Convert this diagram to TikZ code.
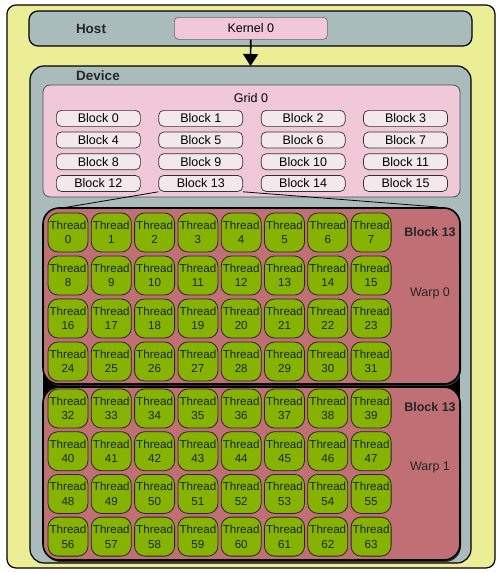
\documentclass[tikz,border=0pt]{standalone}
\usepackage{fontspec}
\setmainfont{Liberation Sans}
\usetikzlibrary{arrows.meta}
\definecolor{outery}{RGB}{236,238,150}
\definecolor{greyb}{RGB}{170,187,188}
\definecolor{pinkb}{RGB}{240,200,216}
\definecolor{blockb}{RGB}{243,232,236}
\definecolor{warpc}{RGB}{192,112,116}
\definecolor{threadg}{RGB}{134,178,0}
\definecolor{threadt}{RGB}{25,40,0}
\tikzset{
  panel/.style={draw=black, line width=1.2pt, rounded corners=9pt},
  blockbox/.style={draw=black!80, line width=0.7pt, fill=blockb, rounded corners=5pt,
    minimum width=84pt, minimum height=16pt, inner sep=0pt, font=\fontsize{12.5}{12.5}\selectfont, anchor=north west},
  warpbox/.style={draw=black, line width=1.6pt, fill=warpc, rounded corners=16pt},
  warpshadow/.style={fill=black!80, rounded corners=16pt},
  thr/.style={draw=black!85, line width=0.8pt, fill=threadg, rounded corners=10pt,
    minimum width=40pt, minimum height=39pt, inner sep=0pt, align=center,
    text=threadt, font=\fontsize{11.6}{14.5}\selectfont},
  title/.style={font=\fontsize{13.5}{13.5}\selectfont\bfseries, text=black!85},
  side/.style={font=\fontsize{12.5}{12.5}\selectfont, text=black!85},
  sidebold/.style={font=\fontsize{12.5}{12.5}\selectfont\bfseries, text=black!85}
}
\begin{document}
\begin{tikzpicture}[x=1pt,y=-1pt]
\useasboundingbox (0,0) rectangle (500,573);
% outer
\draw[panel, fill=outery] (7,5) rectangle (495,568);
% host
\draw[panel, fill=greyb] (29,11) rectangle (472,46);
\node[title] (host) at (91,29) {Host};
\node[draw=black!60, line width=0.6pt, fill=pinkb, rounded corners=4pt, minimum width=153pt, minimum height=22pt, inner sep=0pt, anchor=north west, font=\fontsize{12.5}{12.5}\selectfont] (kernel) at (174,17) {Kernel 0};
% device
\draw[panel, fill=greyb, rounded corners=14pt] (30,66) rectangle (471,563);
\coordinate (devtop) at (250.5,66);
\node[title] (device) at (98,76) {Device};
\draw[line width=1.6pt, -{Triangle[width=15pt,length=12pt]}] (kernel.south) -- (devtop);
% grid
\draw[draw=black!70, line width=0.8pt, fill=pinkb, rounded corners=7pt] (43,85) rectangle (460,197);
\node[font=\fontsize{12.5}{12.5}\selectfont] (grid) at (251,98) {Grid 0};
\foreach \r in {0,...,3}{
  \foreach \c in {0,...,3}{
    \pgfmathtruncatemacro{\n}{4*\r+\c}
    \pgfmathsetmacro{\xx}{56+102.4*\c}
    \pgfmathsetmacro{\yy}{110+21.7*\r}
    \node[blockbox] (b\n) at (\xx,\yy) {Block \n};
  }
}
% warps
\fill[black] (43,368) rectangle (460,402);
\fill[warpshadow] (44.5,210) rectangle (461,386);
\fill[warpshadow] (44.5,389) rectangle (461,562);
\draw[warpbox] (43,208) rectangle (460,384);
\draw[warpbox] (43,387) rectangle (460,560);
\coordinate (w0l) at (62,208);
\coordinate (w0r) at (438,207);
\draw[line width=0.8pt] (b13.south west) -- (w0l);
\draw[line width=0.8pt] (b13.south east) -- (w0r);
\node[sidebold] (bl13a) at (430,232) {Block 13};
\node[side] (warp0) at (430,293) {Warp 0};
\node[sidebold] (bl13b) at (430,407) {Block 13};
\node[side] (warp1) at (430,467) {Warp 1};
% threads
\foreach \r in {0,...,3}{
  \foreach \c in {0,...,7}{
    \pgfmathtruncatemacro{\n}{8*\r+\c}
    \pgfmathtruncatemacro{\m}{32+8*\r+\c}
    \pgfmathsetmacro{\xx}{68+43.3*\c}
    \pgfmathsetmacro{\ya}{232.5+43*\r}
    \pgfmathsetmacro{\yb}{408.5+42.7*\r}
    \node[thr] (t\n) at (\xx,\ya) {Thread\\\n};
    \node[thr] (t\m) at (\xx,\yb) {Thread\\\m};
  }
}
\end{tikzpicture}
\end{document}
